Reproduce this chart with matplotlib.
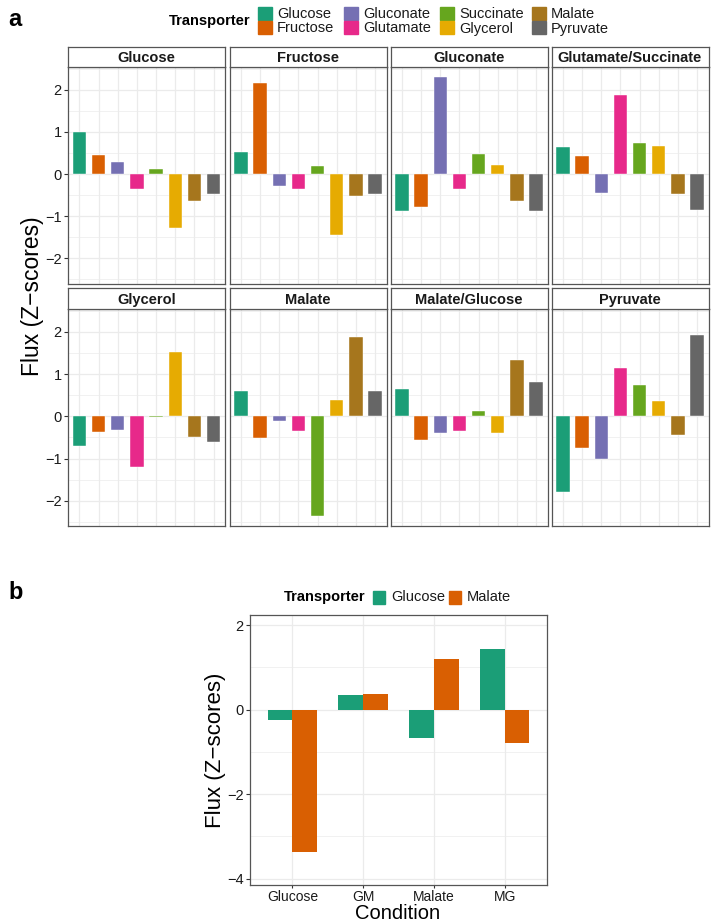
import numpy as np
import matplotlib.pyplot as plt
from matplotlib.patches import Rectangle

plt.rcParams['font.family'] = ['Liberation Sans', 'DejaVu Sans']

W, H = 712, 922

transporters = ['Glucose', 'Fructose', 'Gluconate', 'Glutamate',
                'Succinate', 'Glycerol', 'Malate', 'Pyruvate']
colors = ['#1B9E77', '#D95F02', '#7570B3', '#E7298A',
          '#66A61E', '#E6AB02', '#A6761D', '#666666']

conditions = ['Glucose', 'Fructose', 'Gluconate', 'Glutamate/Succinate',
              'Glycerol', 'Malate', 'Malate/Glucose', 'Pyruvate']

# flux z-scores, one list per condition, in transporter order
z_glucose = [1.00, 0.46, 0.28, -0.36, 0.13, -1.28, -0.64, -0.47]
z_fructose = [0.52, 2.16, -0.28, -0.36, 0.19, -1.45, -0.51, -0.47]
z_gluconate = [-0.88, -0.78, 2.31, -0.36, 0.47, 0.21, -0.64, -0.87]
z_glu_succ = [0.65, 0.42, -0.44, 1.88, 0.73, 0.67, -0.47, -0.85]
z_glycerol = [-0.70, -0.37, -0.33, -1.21, -0.02, 1.52, -0.49, -0.62]
z_malate = [0.60, -0.52, -0.11, -0.35, -2.35, 0.39, 1.87, 0.60]
z_mal_glc = [0.65, -0.56, -0.39, -0.35, 0.13, -0.39, 1.34, 0.80]
z_pyruvate = [-1.80, -0.75, -1.01, 1.14, 0.74, 0.35, -0.44, 1.92]
panel_a = [z_glucose, z_fructose, z_gluconate, z_glu_succ,
           z_glycerol, z_malate, z_mal_glc, z_pyruvate]

# panel b
b_conditions = ['Glucose', 'GM', 'Malate', 'MG']
b_transporters = ['Glucose', 'Malate']
b_glucose = [-0.24, 0.34, -0.67, 1.44]
b_malate = [-3.37, 0.38, 1.21, -0.79]

BORDER = '#555555'
GRID = '#EBEBEB'


def box(l, t, r, b):
    return [l / W, 1 - b / H, (r - l) / W, (b - t) / H]


def style(ax, minor_y):
    ax.set_facecolor('white')
    for s in ax.spines.values():
        s.set_color(BORDER)
        s.set_linewidth(0.9)
    ax.set_yticks(minor_y, minor=True)
    ax.grid(True, which='major', color=GRID, lw=0.9, zorder=0)
    ax.grid(True, which='minor', axis='y', color=GRID, lw=0.5, zorder=0)
    ax.set_axisbelow(True)
    ax.tick_params(axis='y', which='major', length=3, width=0.8,
                   color='#333333', labelsize=10.5, labelcolor='#1a1a1a',
                   pad=1.5)
    ax.tick_params(which='minor', length=0)


fig = plt.figure(figsize=(W / 100, H / 100), dpi=100)

# ---------------- panel a ----------------
cols = [(68, 225), (229.5, 386.5), (390.5, 547.5), (551.5, 708.5)]
rows = [(47, 67, 284), (288, 309, 526.5)]
x = np.arange(len(transporters))
for i, (cond, vals) in enumerate(zip(conditions, panel_a)):
    l, r = cols[i % 4]
    st, pt, pb = rows[i // 4]
    ax = fig.add_axes(box(l, pt, r, pb))
    ax.bar(x, vals, width=0.7, color=colors, edgecolor='white',
           linewidth=0.3, zorder=2)
    ax.set_xlim(-0.6, len(transporters) - 0.4)
    ax.set_ylim(-2.61, 2.54)
    ax.set_xticks(x)
    ax.set_yticks([-2, -1, 0, 1, 2])
    style(ax, [-2.5, -1.5, -0.5, 0.5, 1.5, 2.5])
    ax.tick_params(axis='x', length=0, labelbottom=False)
    if i % 4 == 0:
        ax.set_yticklabels(['\u22122', '\u22121', '0', '1', '2'])
    else:
        ax.tick_params(axis='y', length=0, labelleft=False)
    sax = fig.add_axes(box(l, st, r, pt))
    sax.set_xticks([])
    sax.set_yticks([])
    for s in sax.spines.values():
        s.set_color(BORDER)
        s.set_linewidth(0.9)
    sax.text(0.5, 0.45, cond, ha='center', va='center', fontsize=10.5,
             fontweight='bold', color='#1a1a1a', transform=sax.transAxes)

fig.text(33 / W, 1 - 296 / H, 'Flux (Z\u2212scores)', rotation=90,
         ha='center', va='center', fontsize=16.5)
fig.text(8 / W, 1 - 20 / H, 'a', fontsize=17, fontweight='bold',
         ha='left', va='center')

# legend a (manual, ggplot-style two rows)
fig.text(250 / W, 1 - 21 / H, 'Transporter', fontsize=10.5, fontweight='bold',
         ha='right', va='center')
leg_x = [277, 363, 459, 551]
for k, (name, c) in enumerate(zip(transporters, colors)):
    col, row = k // 2, k % 2
    tx = leg_x[col]
    ky = 7.5 + row * 14
    fig.patches.append(Rectangle(((tx - 19) / W, 1 - (ky + 13) / H),
                                 14 / W, 13 / H, transform=fig.transFigure,
                                 color=c, figure=fig))
    fig.text(tx / W, 1 - (ky + 7) / H, name, fontsize=10.5,
             ha='left', va='center', color='#1a1a1a')

# ---------------- panel b ----------------
axb = fig.add_axes(box(250, 615, 547, 885))
xb = np.arange(len(b_conditions))
axb.bar(xb - 0.175, b_glucose, width=0.35, color=colors[0],
        linewidth=0, zorder=2)
axb.bar(xb + 0.175, b_malate, width=0.35, color=colors[1],
        linewidth=0, zorder=2)
axb.set_xlim(-0.6, len(b_conditions) - 0.4)
axb.set_ylim(-4.15, 2.24)
axb.set_xticks(xb)
axb.set_xticklabels(b_conditions)
axb.set_yticks([-4, -2, 0, 2])
axb.set_yticklabels(['\u22124', '\u22122', '0', '2'])
style(axb, [-3, -1, 1])
axb.tick_params(axis='x', length=2.5, width=0.8, color='#333333',
                labelsize=10, labelcolor='#1a1a1a', pad=1)
fig.text(398 / W, 1 - 918.5 / H, 'Condition', fontsize=14.5,
         ha='center', va='baseline')
fig.text(215 / W, 1 - 750 / H, 'Flux (Z\u2212scores)', rotation=90,
         ha='center', va='center', fontsize=16)

fig.text(8 / W, 1 - 592 / H, 'b', fontsize=17, fontweight='bold',
         ha='left', va='center')
fig.text(366 / W, 1 - 597 / H, 'Transporter', fontsize=10.5, fontweight='bold',
         ha='right', va='center')
for tx, name, c in zip([391, 467], b_transporters, colors[:2]):
    fig.patches.append(Rectangle(((tx - 18) / W, 1 - 603.5 / H), 12 / W,
                                 12.5 / H, transform=fig.transFigure,
                                 color=c, figure=fig))
    fig.text(tx / W, 1 - 597 / H, name, fontsize=10.5, ha='left',
             va='center', color='#1a1a1a')

fig.savefig('out.png', dpi=100)
